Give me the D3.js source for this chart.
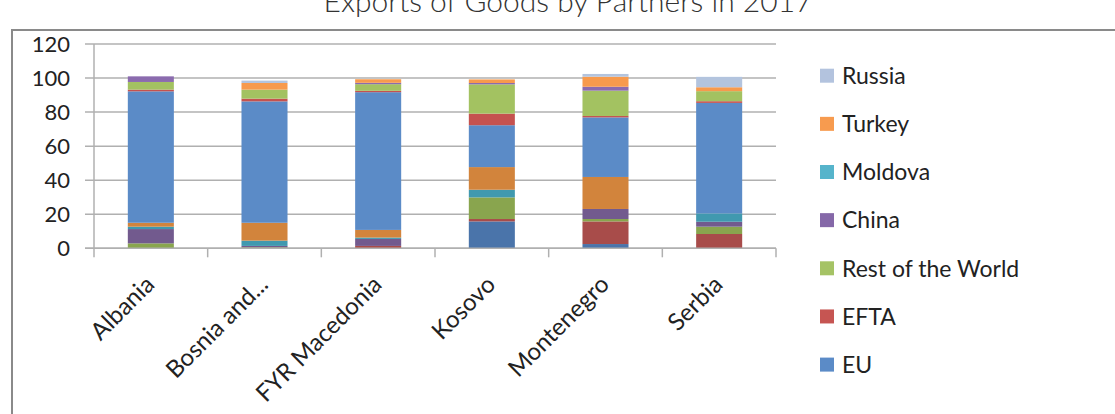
<!DOCTYPE html>
<html lang="en">
<head>
    <meta charset="UTF-8">
    <title>Exports of Goods by Partners in 2017</title>
    <style>
        body {
            padding: 0;
            margin: 0;
            width: 1115px;
            height: 414px;
            overflow: hidden;
            background: #fff;
        }
        text {
            font-family: Lato, "Open Sans", sans-serif;
        }
    </style>
</head>
<body>
    <script src="https://d3js.org/d3.v7.min.js"></script>
    <script>
        // countries on the x axis
        const countries = ['Albania', 'Bosnia and...', 'FYR Macedonia', 'Kosovo', 'Montenegro', 'Serbia'];
        // legend entries (top to bottom)
        const legendNames = ['Russia', 'Turkey', 'Moldova', 'China', 'Rest of the World', 'EFTA', 'EU'];
        const yTicks = [0, 20, 40, 60, 80, 100, 120];

        // lower block of each bar (darker shades)
        const euLow = [0, 0, 0, 15.8, 2.5, 0];
        const eftaLow = [0, 0, 1.4, 1.4, 13.3, 8.4];
        const rowLow = [2.9, 0.6, 0, 12.7, 1.4, 4.3];
        const chinaLow = [8.4, 0.8, 4.1, 0, 5.9, 2.9];
        const moldovaLow = [1.4, 3.1, 0.8, 4.5, 0, 4.9];
        const turkeyLow = [2.3, 10.5, 4.5, 13.3, 18.8, 0];
        const russiaLow = [0, 0, 0, 0, 0, 0];
        // upper block of each bar
        const euHigh = [77.2, 71.3, 80.9, 24.6, 35.0, 64.9];
        const eftaHigh = [1.0, 1.6, 0.8, 6.8, 0.8, 1.0];
        const rowHigh = [4.5, 5.3, 3.9, 17.2, 14.9, 5.9];
        const chinaHigh = [3.3, 0, 0.8, 0.8, 2.3, 0];
        const moldovaHigh = [0, 0, 0, 0, 0, 0];
        const turkeyHigh = [0, 3.9, 2.1, 2.1, 5.9, 2.3];
        const russiaHigh = [0, 1.4, 0, 0, 1.6, 6.1];

        const width = 1115, height = 414;
        const svg = d3.select('body').append('svg')
            .attr('width', width)
            .attr('height', height);

        // chart frame (runs off the right and bottom edges)
        svg.append('rect')
            .attr('x', 12).attr('y', 30)
            .attr('width', 1300).attr('height', 600)
            .attr('fill', 'none')
            .attr('stroke', '#8a8a8a')
            .attr('stroke-width', 2);

        // title, partly cut off at the top as in the source
        svg.append('text')
            .attr('x', 568).attr('y', 12)
            .attr('text-anchor', 'middle')
            .attr('font-size', 30)
            .attr('font-weight', 300)
            .attr('fill', '#333')
            .text('Exports of Goods by Partners in 2017');

        const keys = ['euLow', 'eftaLow', 'rowLow', 'chinaLow', 'moldovaLow', 'turkeyLow', 'russiaLow',
            'euHigh', 'eftaHigh', 'rowHigh', 'chinaHigh', 'moldovaHigh', 'turkeyHigh', 'russiaHigh'];
        const seriesData = {euLow, eftaLow, rowLow, chinaLow, moldovaLow, turkeyLow, russiaLow,
            euHigh, eftaHigh, rowHigh, chinaHigh, moldovaHigh, turkeyHigh, russiaHigh};
        const rows = countries.map((c, i) => {
            const r = {country: c};
            keys.forEach(k => r[k] = seriesData[k][i]);
            return r;
        });

        const color = d3.scaleOrdinal()
            .domain(keys)
            .range(['#4a74aa', '#a84c4a', '#89a54e', '#725a8e', '#4099af', '#d2843c', '#93a9cf',
                '#5b8bc7', '#c5524f', '#a3c261', '#8b6bae', '#4db1c9', '#f79a4d', '#b3c4de']);
        const legendColor = d3.scaleOrdinal()
            .domain(legendNames)
            .range(['#b3c3de', '#f79b4f', '#56b4cb', '#8568a8', '#a5c365', '#c65552', '#5b8bc7']);

        const x = d3.scaleBand().domain(countries).range([94, 776]).padding(0);
        const y = d3.scaleLinear().domain([0, 120]).range([248.3, 44]);
        const barW = x.bandwidth() * 0.405;

        // gridlines with short ticks to the left
        svg.append('g')
            .selectAll('line')
            .data(yTicks)
            .join('line')
            .attr('x1', 85).attr('x2', 776)
            .attr('y1', d => y(d)).attr('y2', d => y(d))
            .attr('stroke', '#b0b0b0')
            .attr('stroke-width', 1.5);

        // y axis
        svg.append('line')
            .attr('x1', 94).attr('x2', 94)
            .attr('y1', y(120)).attr('y2', y(0))
            .attr('stroke', '#b0b0b0').attr('stroke-width', 1.5);
        svg.append('g')
            .selectAll('text')
            .data(yTicks)
            .join('text')
            .attr('x', 70)
            .attr('y', d => y(d))
            .attr('dy', '0.36em')
            .attr('text-anchor', 'end')
            .attr('font-size', 22)
            .attr('fill', '#222')
            .text(d => d);

        // stacked bars
        const stacked = d3.stack().keys(keys)(rows);
        svg.append('g')
            .selectAll('g')
            .data(stacked)
            .join('g')
            .attr('fill', d => color(d.key))
            .selectAll('rect')
            .data(d => d)
            .join('rect')
            .attr('x', d => x(d.data.country) + (x.bandwidth() - barW) / 2)
            .attr('y', d => y(d[1]))
            .attr('width', barW)
            .attr('height', d => y(d[0]) - y(d[1]));

        // x axis line and ticks at category boundaries
        svg.append('line')
            .attr('x1', 85).attr('x2', 776)
            .attr('y1', y(0)).attr('y2', y(0))
            .attr('stroke', '#b0b0b0').attr('stroke-width', 1.5);
        const bounds = countries.map(c => x(c)).concat([x.range()[1]]);
        svg.append('g')
            .selectAll('line')
            .data(bounds)
            .join('line')
            .attr('x1', d => d).attr('x2', d => d)
            .attr('y1', y(0)).attr('y2', y(0) + 9)
            .attr('stroke', '#b0b0b0').attr('stroke-width', 1.5);

        // rotated category labels
        svg.append('g')
            .selectAll('text')
            .data(countries)
            .join('text')
            .attr('transform', d => `translate(${x(d) + x.bandwidth() / 2 + 5},286) rotate(-45)`)
            .attr('text-anchor', 'end')
            .attr('font-size', 24)
            .attr('fill', '#222')
            .text(d => d);

        // legend
        const legend = svg.append('g');
        legend.selectAll('rect')
            .data(legendNames)
            .join('rect')
            .attr('x', 820)
            .attr('y', (d, i) => 75.7 + i * 48.15 - 7)
            .attr('width', 14).attr('height', 14)
            .attr('fill', d => legendColor(d));
        legend.selectAll('text')
            .data(legendNames)
            .join('text')
            .attr('x', 842)
            .attr('y', (d, i) => 75.7 + i * 48.15)
            .attr('dy', '0.36em')
            .attr('font-size', 23)
            .attr('fill', '#222')
            .text(d => d);
    </script>
</body>
</html>
